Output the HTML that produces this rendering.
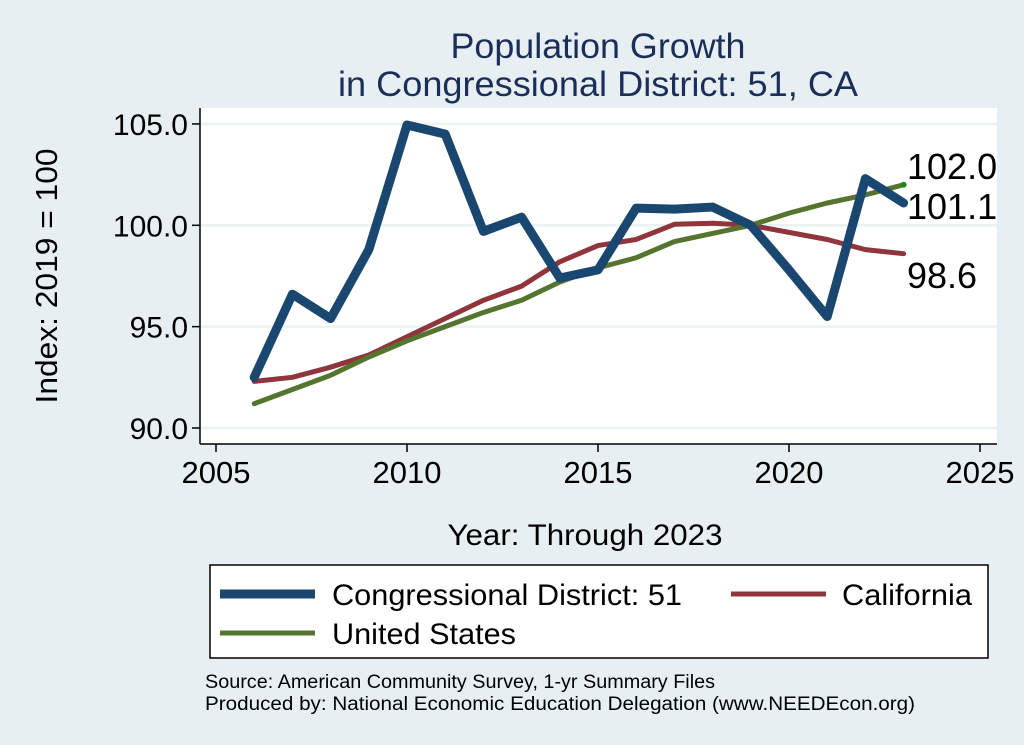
<!DOCTYPE html>
<html><head><meta charset="utf-8"><style>
body{margin:0;background:#e8eff2;}
svg{display:block;font-family:"Liberation Sans",sans-serif;}
</style></head><body>
<svg id="c" width="1024" height="745">
<rect x="0" y="0" width="1024" height="745" fill="#e8eff2"/>
<text x="598" y="58" font-size="35" fill="#1a2e5a" text-anchor="middle" textLength="295" lengthAdjust="spacingAndGlyphs">Population Growth</text>
<text x="598" y="96" font-size="35" fill="#1a2e5a" text-anchor="middle" textLength="520" lengthAdjust="spacingAndGlyphs">in Congressional District: 51, CA</text>
<rect x="200" y="108" width="797" height="336" fill="#fff"/>
<g id="grid"></g><g id="axes"></g><g id="lines"></g>
<text transform="translate(57,276) rotate(-90)" font-size="31" text-anchor="middle" textLength="255" lengthAdjust="spacingAndGlyphs">Index: 2019 = 100</text>
<text x="585" y="545" font-size="30" text-anchor="middle" textLength="275" lengthAdjust="spacingAndGlyphs">Year: Through 2023</text>
<g>
<rect x="210" y="565" width="778" height="93" fill="#fff" stroke="#000" stroke-width="1.5"/>
<line x1="220" y1="594" x2="315" y2="594" stroke="#1a476f" stroke-width="9"/>
<text x="332" y="605" font-size="30" textLength="350" lengthAdjust="spacingAndGlyphs">Congressional District: 51</text>
<line x1="731" y1="594" x2="826" y2="594" stroke="#90353b" stroke-width="5"/>
<text x="842" y="605" font-size="30" textLength="130" lengthAdjust="spacingAndGlyphs">California</text>
<line x1="220" y1="633" x2="315" y2="633" stroke="#55752f" stroke-width="5"/>
<text x="332" y="644" font-size="30" textLength="184" lengthAdjust="spacingAndGlyphs">United States</text>
</g>
<text x="205" y="688" font-size="19" textLength="510" lengthAdjust="spacingAndGlyphs">Source: American Community Survey, 1-yr Summary Files</text>
<text x="205" y="710" font-size="19" textLength="710" lengthAdjust="spacingAndGlyphs">Produced by: National Economic Education Delegation (www.NEEDEcon.org)</text>
</svg>
<script>
const years=[2006,2007,2008,2009,2010,2011,2012,2013,2014,2015,2016,2017,2018,2019,2020,2021,2022,2023];
const district=[92.5,96.6,95.4,98.8,104.95,104.5,99.7,100.4,97.4,97.8,100.85,100.8,100.9,100.0,97.8,95.5,102.3,101.1];
const california=[92.3,92.5,93.0,93.6,94.5,95.4,96.3,97.0,98.2,99.0,99.3,100.05,100.1,100.0,99.65,99.3,98.8,98.6];
const usa=[91.2,91.9,92.6,93.5,94.3,95.0,95.7,96.3,97.2,97.9,98.4,99.2,99.6,100.0,100.6,101.1,101.5,102.0];
const xTicks=[2005,2010,2015,2020,2025];
const yTicks=[90,95,100,105];
const yTickLabels=["90.0","95.0","100.0","105.0"];
const X=v=>216+(v-2005)*38.2;
const Y=v=>428-(v-90)*20.27;
const NS="http://www.w3.org/2000/svg";
function mk(parent,tag,attrs){const e=document.createElementNS(NS,tag);for(const k in attrs)e.setAttribute(k,attrs[k]);document.getElementById(parent).appendChild(e);return e;}
yTicks.forEach((t,i)=>{
 let g=mk('grid','line',{x1:201,x2:997,y1:Y(t),y2:Y(t),stroke:'#eaf2f3','stroke-width':2.5});
 
 
 let tk=mk('axes','line',{x1:192,x2:200,y1:Y(t),y2:Y(t),stroke:'#000','stroke-width':1.5});
 
 
 let tx=mk('axes','text',{x:188,y:Y(t)+11,'font-size':30,'text-anchor':'end'});
 tx.textContent=yTickLabels[i];
 
 
});
xTicks.forEach(t=>{
 let tk=mk('axes','line',{x1:X(t),x2:X(t),y1:444,y2:452,stroke:'#000','stroke-width':1.5});
 
 
 let tx=mk('axes','text',{x:X(t),y:483,'font-size':31,'text-anchor':'middle'});
 tx.textContent=t;
 
 
});
let ya=mk('axes','line',{x1:200,x2:200,y1:108,y2:444,stroke:'#000','stroke-width':1.5});


let xa=mk('axes','line',{x1:200,x2:997,y1:444,y2:444,stroke:'#000','stroke-width':1.5});


function series(vals,color,w,name){
 const p=mk('lines','polyline',{points:vals.map((v,i)=>X(years[i])+','+Y(v)).join(' '),fill:'none',stroke:color,'stroke-width':w,'stroke-linejoin':'round','stroke-linecap':'round'});
 
 
}
series(california,'#90353b',5,'line-california');
series(usa,'#55752f',5,'line-united-states');
series(district,'#1a476f',9,'line-district');
const n=years.length-1;
let dot=mk('lines','circle',{cx:X(years[n]),cy:Y(usa[n]),r:3,fill:'#1a8a1a'});


function lab(v,y,name){const t=mk('lines','text',{x:907,y:y,'font-size':36});t.textContent=v.toFixed(1);
 
 }
lab(usa[n],179,'end-label-us');
lab(district[n],219,'end-label-district');
lab(california[n],288,'end-label-california');
</script>
</body></html>
